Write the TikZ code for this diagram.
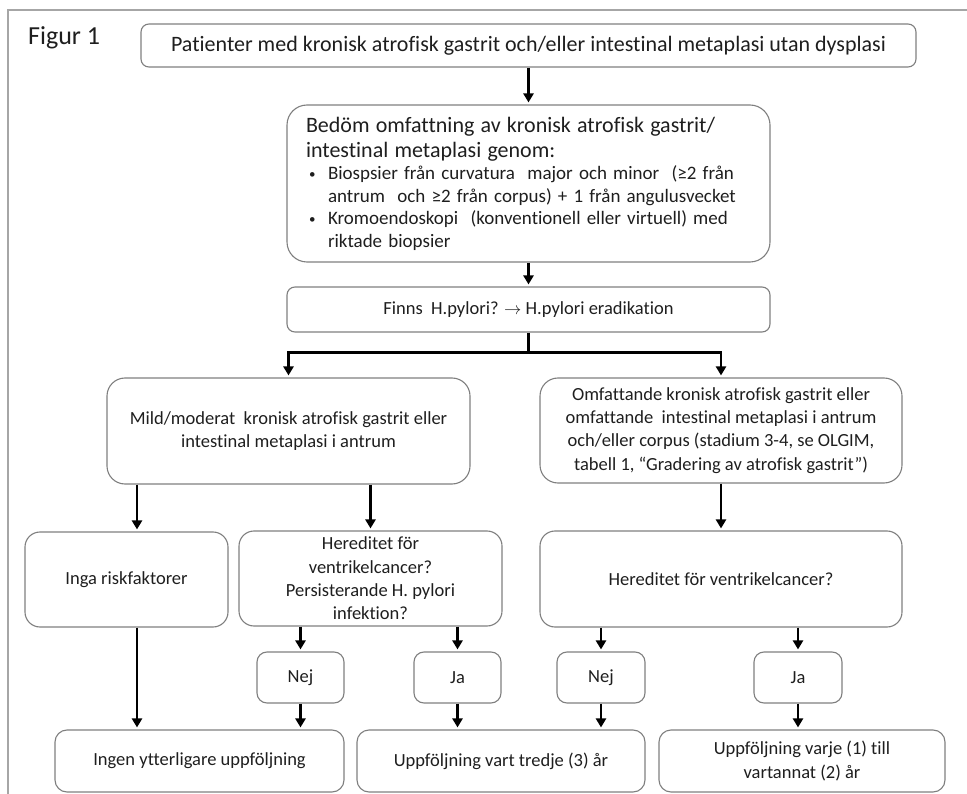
\documentclass[tikz,border=0pt]{standalone}
\usepackage{fontspec}
\setmainfont{Carlito}[Ligatures={NoCommon}]
\usetikzlibrary{arrows.meta,calc}
\definecolor{boxline}{HTML}{7F7F7F}
\definecolor{txt}{HTML}{1E1E1E}
\definecolor{framecol}{HTML}{A6A6A6}
\newcommand{\smbul}{\makebox[19pt][l]{\raisebox{0.15ex}{\fontsize{13}{13}\selectfont\textbullet}}}
\begin{document}
\begin{tikzpicture}[x=1pt,y=-1pt,
  box/.style={draw=boxline, line width=1.1pt, rounded corners=#1, text=txt, align=center, inner sep=0pt, font=\fontsize{18.5}{23.3}\selectfont},
  box/.default=12pt,
  sz/.style 2 args={minimum width=#1pt, minimum height=#2pt},
  arr/.style={line width=2.6pt, -{Triangle[length=9pt,width=10pt]}, shorten >=2pt},
  conn/.style={line width=2.6pt}]
\useasboundingbox (0,0) rectangle (967,794);
\draw[framecol, line width=1.2pt] (8,794) -- (8,10) -- (967,10);

\node[anchor=base west, inner sep=0pt, text=txt, font=\fontsize{26}{30}\selectfont] (fig) at (28,45) {Figur 1};

\node[box=8pt, sz={775}{43}, font=\fontsize{22}{26}\selectfont] (top) at (528.5,45.5) {Patienter med kronisk atrofisk gastrit och/eller intestinal metaplasi utan dysplasi};

\node[box=20pt, sz={483}{157}, align=left, text width=445pt] (assess) at (528.5,183.5) {{\fontsize{22}{25}\selectfont Bedöm omfattning av kronisk atrofisk gastrit/\\intestinal metaplasi genom:\par}{\fontsize{19}{22.5}\selectfont
\hspace*{3pt}\smbul Biospsier från curvatura\ \ major och minor\ \ (≥2 från\\
\hspace*{22pt}antrum\ \ och ≥2 från corpus) + 1 från angulusvecket\\
\hspace*{3pt}\smbul Kromoendoskopi\ \ (konventionell eller virtuell) med\\
\hspace*{22pt}riktade biopsier\par}};

\node[box=8pt, sz={483}{45}] (finns) at (528.5,309.5) {Finns\ \ H.pylori? $\rightarrow$ H.pylori eradikation};

\node[box=18pt, sz={363}{106}] (mild) at (288.5,431) {Mild/moderat\ \ kronisk atrofisk gastrit eller\\intestinal metaplasi i antrum};
\node[box=18pt, sz={362}{105}] (omf) at (721,430.5) {Omfattande kronisk atrofisk gastrit eller\\omfattande\ \ intestinal metaplasi i antrum\\och/eller corpus (stadium 3-4, se OLGIM,\\tabell 1, “Gradering av atrofisk gastrit”)};

\node[box=15pt, sz={203}{95}] (inga) at (126.5,579.5) {Inga riskfaktorer};
\node[box=15pt, sz={263}{95}] (hered1) at (370.5,578.5) {Hereditet för\\ventrikelcancer?\\Persisterande H. pylori\\infektion?};
\node[box=15pt, sz={362}{96}] (hered2) at (721,579) {Hereditet för ventrikelcancer?};

\node[box=10pt, sz={87}{51}] (nej1) at (300.5,677.5) {Nej};
\node[box=10pt, sz={87}{51}] (ja1) at (457.5,677.5) {Ja};
\node[box=10pt, sz={88}{51}] (nej2) at (601,677.5) {Nej};
\node[box=10pt, sz={88}{51}] (ja2) at (798,677.5) {Ja};

\node[box=12pt, sz={289}{62}] (ingen) at (199.5,761) {Ingen ytterligare uppföljning};
\node[box=12pt, sz={288}{62}] (upp3) at (501,761) {Uppföljning vart tredje (3) år};
\node[box=12pt, sz={286}{62}] (upp12) at (802,761) {Uppföljning varje (1) till\\vartannat (2) år};

\coordinate (c1) at (137,0);
\coordinate (bj) at ($(finns.south)+(0,20)$);

\draw[arr] (top.south) -- (assess.north);
\draw[arr] (assess.south) -- (finns.north);
\draw[conn] (finns.south) -- (bj);
\draw[arr] (bj) -| (mild.north);
\draw[arr] (bj) -| (omf.north);
\draw[arr] (mild.south -| c1) -- (inga.north -| c1);
\draw[arr] (mild.south -| hered1.north) -- (hered1.north);
\draw[arr] (omf.south) -- (hered2.north);
\draw[arr] (inga.south -| c1) -- (ingen.north -| c1);
\draw[arr] (hered1.south -| nej1.north) -- (nej1.north);
\draw[arr] (hered1.south -| ja1.north) -- (ja1.north);
\draw[arr] (hered2.south -| nej2.north) -- (nej2.north);
\draw[arr] (hered2.south -| ja2.north) -- (ja2.north);
\draw[arr] (nej1.south) -- (nej1.south |- ingen.north);
\draw[arr] (ja1.south) -- (ja1.south |- upp3.north);
\draw[arr] (nej2.south) -- (nej2.south |- upp3.north);
\draw[arr] (ja2.south) -- (ja2.south |- upp12.north);
\end{tikzpicture}
\end{document}
